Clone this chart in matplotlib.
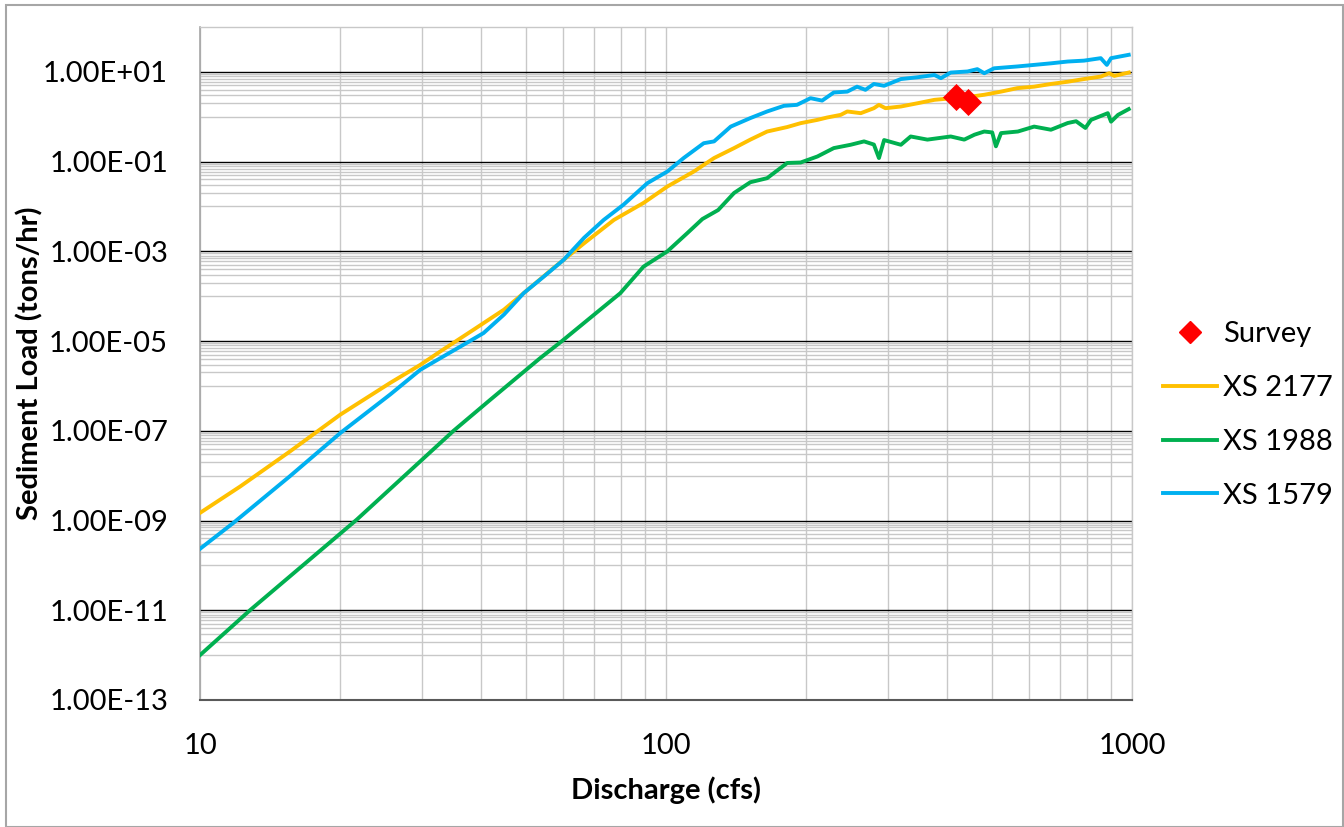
import matplotlib
matplotlib.use("Agg")
import matplotlib.pyplot as plt
from matplotlib.ticker import FixedLocator, NullFormatter, FuncFormatter
from matplotlib.patches import Rectangle
from matplotlib.lines import Line2D

plt.rcParams['font.family'] = ['Lato', 'DejaVu Sans']

# ---- data ----
survey_q = [420, 445]
survey_load = [2.7, 2.1]

xs2177_q = [10, 12.2, 15.6, 20.0, 25.6, 29.7, 32.8, 38.6, 44.9, 49.5, 57.4, 66.7, 77.3, 89.5,
            100.7, 114.8, 126.8, 140.0, 151.7, 164.8, 182.0, 194.5, 211.3, 221.8, 237.1, 244.9,
            261.8, 279.3, 286.4, 295.8, 319.2, 346.7, 376.7, 408.3, 443.6, 481.9, 523.6, 567.5,
            616.6, 669.9, 727.8, 788.9, 857.0, 893.3, 916.2, 984.0]
xs2177_load = [1.48e-9, 5.75e-9, 3.47e-8, 2.29e-7, 1.17e-6, 2.95e-6, 5.89e-6, 1.78e-5, 5.01e-5,
               1.17e-4, 4.27e-4, 1.51e-3, 5.01e-3, 1.20e-2, 2.79e-2, 6.03e-2, 0.120, 0.200, 0.309,
               0.468, 0.589, 0.719, 0.851, 0.962, 1.10, 1.31, 1.20, 1.55, 1.84, 1.55, 1.69, 2.00,
               2.38, 2.57, 2.74, 3.09, 3.63, 4.34, 4.68, 5.37, 6.03, 6.92, 7.85, 9.33, 8.13, 9.66]

xs1988_q = [10, 12.8, 21.7, 35.0, 42.0, 53.7, 59.8, 79.8, 89.5, 100.7, 111.2, 119.7, 129.4,
            140.0, 151.7, 164.8, 182.0, 194.5, 211.3, 229.1, 248.9, 266.1, 279.3, 286.4, 293.8,
            319.2, 335.0, 363.9, 408.3, 436.5, 459.2, 481.9, 501.2, 510.5, 523.6, 568.9, 616.6,
            669.9, 727.8, 758.6, 794.3, 816.6, 887.2, 901.6, 933.3, 984.0]
xs1988_load = [1e-12, 1e-11, 1.05e-9, 1e-7, 4.95e-7, 4.17e-6, 1e-5, 1.17e-4, 4.57e-4,
               1e-3, 2.57e-3, 5.25e-3, 8.32e-3, 2.0e-2, 3.47e-2, 4.27e-2, 9.33e-2, 9.55e-2, 0.130,
               0.200, 0.237, 0.282, 0.240, 0.120, 0.302, 0.237, 0.363, 0.309, 0.363, 0.309, 0.398,
               0.468, 0.447, 0.219, 0.432, 0.468, 0.603, 0.513, 0.724, 0.794, 0.562, 0.851, 1.20,
               0.776, 1.10, 1.48]

xs1579_q = [10, 11.8, 15.6, 20.0, 25.6, 29.7, 32.8, 36.8, 40.6, 44.9, 49.5, 54.7, 60.3, 66.7, 73.5,
            81.1, 91.2, 100.7, 109.1, 120.5, 126.8, 137.7, 151.7, 164.8, 179.1, 191.0, 204.2,
            216.3, 229.1, 244.9, 257.0, 267.9, 279.3, 293.8, 319.2, 346.7, 376.7, 389.0, 408.3,
            443.6, 465.6, 481.9, 505.8, 567.5, 616.6, 669.9, 727.8, 788.9, 857.0, 883.1, 901.6, 984.0]
xs1579_load = [2.34e-10, 8.91e-10, 9.77e-9, 8.91e-8, 6.46e-7, 2.29e-6, 4.17e-6, 8.32e-6, 1.51e-5,
               3.89e-5, 1.17e-4, 2.75e-4, 6.46e-4, 2.00e-3, 5.01e-3, 1.10e-2, 3.31e-2, 6.03e-2,
               0.120, 0.257, 0.282, 0.603, 0.933, 1.31, 1.75, 1.84, 2.59, 2.29, 3.47, 3.63, 4.68,
               3.98, 5.37, 4.90, 6.92, 7.59, 8.51, 7.24, 9.66, 10.2, 11.5, 9.33, 12.0, 13.2, 14.3,
               15.5, 17.0, 17.8, 20.2, 14.3, 20.2, 24.0]

y_major = [1e-13, 1e-11, 1e-9, 1e-7, 1e-5, 1e-3, 1e-1, 1e1]
y_minor = [m * 10.0 ** e for e in range(-12, 1, 2) for m in range(1, 10)]
x_major = [10, 100, 1000]
x_minor = [m * 10.0 ** e for e in (1, 2) for m in range(2, 10)]

# ---- figure ----
fig = plt.figure(figsize=(13.44, 8.27), dpi=100)
fig.patches.append(Rectangle((0.0045, 0.0), 0.995, 0.9935, transform=fig.transFigure,
                             fill=False, edgecolor='#A6A6A6', linewidth=1.5))
ax = fig.add_axes([200 / 1344, 1 - 700 / 827, 932 / 1344, 673 / 827])

lw = 2.8
ax.plot(xs2177_q, xs2177_load, color='#FFC000', lw=lw, zorder=3, solid_joinstyle='round')
ax.plot(xs1988_q, xs1988_load, color='#00B050', lw=lw, zorder=3, solid_joinstyle='round')
ax.plot(xs1579_q, xs1579_load, color='#00B0F0', lw=lw, zorder=3, solid_joinstyle='round')
ax.scatter(survey_q, survey_load, marker='D', s=190, color='#FF0000', zorder=4, linewidths=0)

ax.set_xscale('log')
ax.set_yscale('log')
ax.set_xlim(10, 1000)
ax.set_ylim(1e-13, 1e2)

ax.yaxis.set_major_locator(FixedLocator(y_major))
ax.yaxis.set_minor_locator(FixedLocator(y_minor))
ax.yaxis.set_major_formatter(FuncFormatter(lambda v, p: ("%.2E" % v)))
ax.yaxis.set_minor_formatter(NullFormatter())
ax.xaxis.set_major_locator(FixedLocator(x_major))
ax.xaxis.set_minor_locator(FixedLocator(x_minor))
ax.xaxis.set_major_formatter(FuncFormatter(lambda v, p: "%d" % v))
ax.xaxis.set_minor_formatter(NullFormatter())

ax.grid(True, axis='y', which='major', color='#000000', lw=1.0, zorder=1)
ax.grid(True, axis='y', which='minor', color='#C8C8C8', lw=1.0, zorder=0)
ax.grid(True, axis='x', which='both', color='#C8C8C8', lw=1.0, zorder=0)

ax.tick_params(axis='both', which='both', length=0, labelsize=21, colors='#000000')
ax.tick_params(axis='y', pad=23)
ax.tick_params(axis='x', pad=24)

for s in ['top', 'right']:
    ax.spines[s].set_color('#C8C8C8')
    ax.spines[s].set_linewidth(1.0)
ax.spines['left'].set_color('#A6A6A6')
ax.spines['left'].set_linewidth(1.2)
ax.spines['bottom'].set_color('#595959')
ax.spines['bottom'].set_linewidth(1.5)

ax.set_xlabel('Discharge (cfs)', fontsize=21, fontweight='bold')
ax.xaxis.set_label_coords(0.5, (700 - 790) / 673)
ax.xaxis.label.set_va('center')
ax.set_ylabel('Sediment Load (tons/hr)', fontsize=21, fontweight='bold')
ax.yaxis.set_label_coords((30 - 200) / 932, 0.5)
ax.yaxis.label.set_va('center')

handles = [
    Line2D([], [], marker='D', color='#FF0000', linestyle='None', markersize=11),
    Line2D([], [], color='#FFC000', lw=lw),
    Line2D([], [], color='#00B050', lw=lw),
    Line2D([], [], color='#00B0F0', lw=lw),
]
labels = ['Survey', 'XS 2177', 'XS 1988', 'XS 1579']
fig.legend(handles, labels, loc='center left', bbox_to_anchor=(1163 / 1344, 1 - 415 / 827),
           frameon=False, fontsize=21, handlelength=1.85, handletextpad=0.2, labelspacing=0.95,
           borderaxespad=0, borderpad=0)

fig.savefig('out.png', dpi=100)
